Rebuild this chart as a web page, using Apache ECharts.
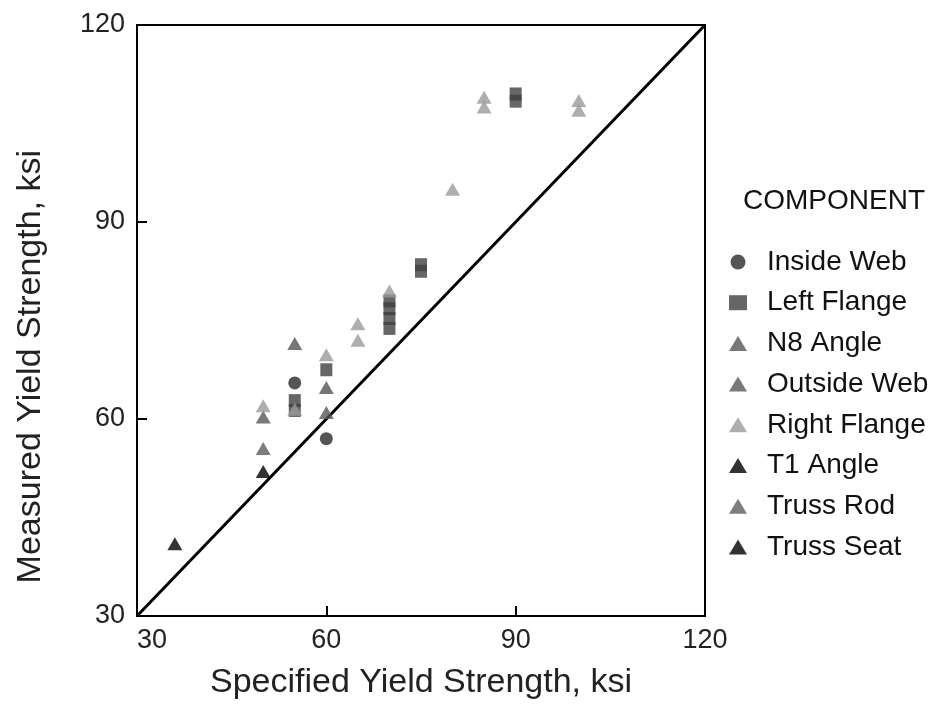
<!DOCTYPE html>
<html><head><meta charset="utf-8">
<script src="https://cdn.jsdelivr.net/npm/echarts@6/dist/echarts.min.js"></script>
<style>html,body{margin:0;padding:0;background:#fff}#c{width:942px;height:705px}</style>
</head><body><div id="c"></div>
<script>
const xTicks = [30, 60, 90, 120];
const yTicks = [30, 60, 90, 120];
const seriesNames = ["Inside Web","Left Flange","N8 Angle","Outside Web","Right Flange","T1 Angle","Truss Rod","Truss Seat"];
const insideWeb = [[55,65.5],[60,57]];
const leftFlange = [[55,61.3],[55,62.8],[60,67.5],[70,73.8],[70,75.3],[70,76.8],[70,78],[75,82.5],[75,83.5],[90,108.4],[90,109.5]];
const n8Angle = [[55,71.5],[60,64.8]];
const outsideWeb = [[50,60.3],[60,61]];
const rightFlange = [[50,62],[55,61.5],[60,69.8],[65,74.5],[65,72],[70,79.5],[80,95],[85,107.5],[85,109],[100,107],[100,108.5]];
const t1Angle = [[50,52]];
const trussRod = [[50,55.5]];
const trussSeat = [[36,41]];
const diagonal = [[30,30],[120,120]];

const seriesData = [insideWeb,leftFlange,n8Angle,outsideWeb,rightFlange,t1Angle,trussRod,trussSeat];
const symbols = ['circle','rect','triangle','triangle','triangle','triangle','triangle','triangle'];
const colors = ['#2a2a2a','#404040','#555555','#585858','#9a9a9a','#000000','#5c5c5c','#000000'];
const sizes = [13,[12,13],[15,13],[15,13],[15,13],[15,13],[15,13],[15,13]];

const font = 'Liberation Sans, Arial, sans-serif';
const chart = echarts.init(document.getElementById('c'));
const scatter = seriesNames.map((n,i)=>({
  name:n, type:'scatter', data:seriesData[i], symbol:symbols[i], symbolSize:sizes[i],
  itemStyle:{color:colors[i]}, z: i===4?4:3
}));
chart.setOption({
  animation:false,
  title:{text:'COMPONENT', left:738, top:182, textStyle:{fontFamily:font, fontSize:28, fontWeight:'normal', color:'#111'}},
  legend:{orient:'vertical', left:724, top:243, itemGap:12.7, itemWidth:18, itemHeight:15,
    data:seriesNames.map((n,i)=>({name:n, icon:symbols[i]})),
    textStyle:{fontFamily:font, fontSize:28, color:'#111', padding:[0,0,0,15]}},
  grid:{left:137, right:237, top:25, bottom:82, show:true, borderColor:'#000', borderWidth:2, backgroundColor:'transparent'},
  graphic:[{type:'text', left:14, top:150, rotation:Math.PI/2, style:{text:'Measured Yield Strength, ksi', font:'34px Liberation Sans, Arial, sans-serif', fill:'#222'}}],
  xAxis:{type:'value', min:30, max:120, interval:30,
    name:'Specified Yield Strength, ksi', nameLocation:'middle', nameGap:50,
    nameTextStyle:{fontFamily:font, fontSize:34, color:'#222'},
    axisLine:{show:true, lineStyle:{color:'#000', width:2}},
    axisTick:{show:true, inside:true, length:10, lineStyle:{color:'#000', width:2}},
    axisLabel:{fontFamily:font, fontSize:27, color:'#222', margin:11, alignMinLabel:'left'},
    splitLine:{show:false}},
  yAxis:{type:'value', min:30, max:120, interval:30,
    axisLine:{show:true, lineStyle:{color:'#000', width:2}},
    axisTick:{show:true, inside:true, length:10, lineStyle:{color:'#000', width:2}},
    axisLabel:{fontFamily:font, fontSize:27, color:'#222', margin:12},
    splitLine:{show:false}},
  series:[{type:'line', data:diagonal, symbol:'none', lineStyle:{color:'#000', width:3}, z:2, silent:true}].concat(scatter)
});
</script></body></html>
